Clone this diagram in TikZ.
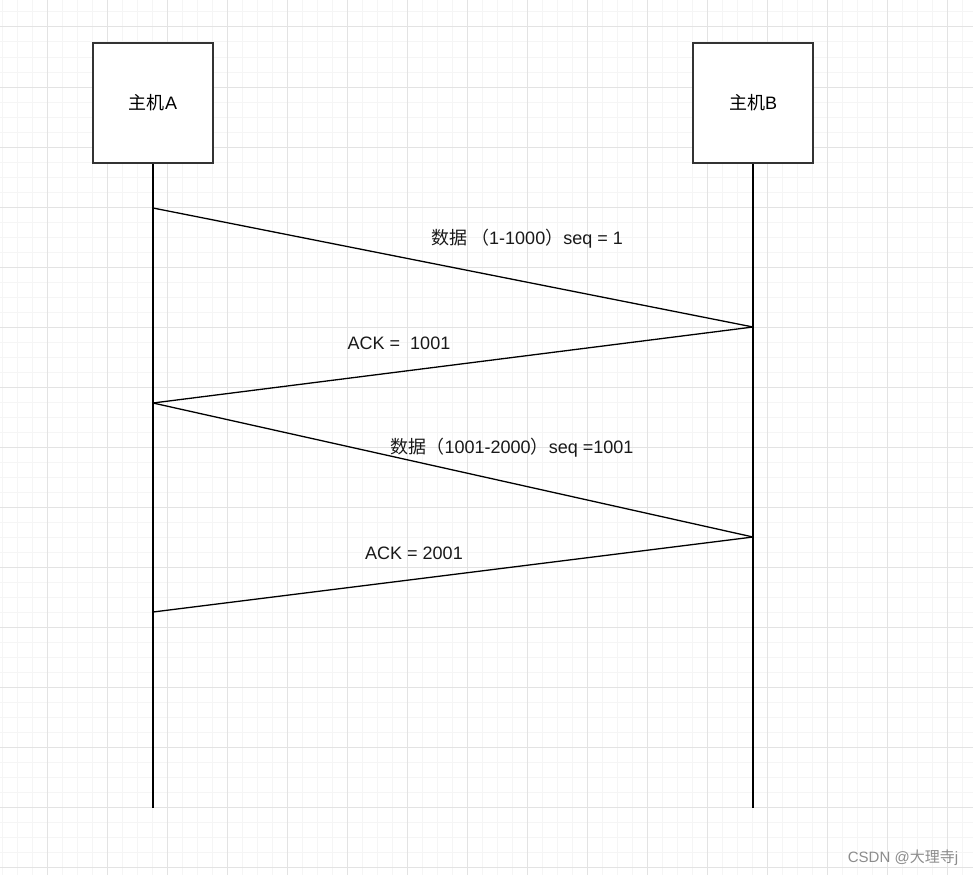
\documentclass[tikz,border=0pt]{standalone}
\usepackage{fontspec}
\setmainfont{Liberation Sans}
\newfontfamily\cjk{Noto Sans CJK SC}
\definecolor{gridminor}{HTML}{F5F5F5}
\definecolor{gridmajor}{HTML}{E3E3E3}
\definecolor{boxline}{HTML}{333333}
\begin{document}
\begin{tikzpicture}[x=1pt,y=-1pt,
  host/.style={draw=boxline,line width=1.6pt,fill=white,minimum width=120pt,minimum height=120pt,inner sep=0pt,font=\fontsize{18}{21}\selectfont},
  life/.style={draw=black,line width=1.6pt},
  msg/.style={draw=black,line width=1.3pt},
  lbl/.style={inner sep=0pt,font=\fontsize{18}{21}\selectfont,text=black!90},
  wm/.style={inner sep=0pt,font=\fontsize{15}{17}\selectfont,text=black!45}]
\useasboundingbox (0,0) rectangle (973,875);
\fill[white] (0,0) rectangle (973,875);
% grid
\foreach \x in {2,17,...,973} \draw[gridminor,line width=1pt] (\x,0) -- (\x,875);
\foreach \y in {12,27,...,875} \draw[gridminor,line width=1pt] (0,\y) -- (973,\y);
\foreach \x in {47,107,...,973} \draw[gridmajor,line width=1pt] (\x,0) -- (\x,875);
\foreach \y in {27,87,...,875} \draw[gridmajor,line width=1pt] (0,\y) -- (973,\y);
% hosts
\node[host] (A) at (153,103) {{\cjk 主机}A};
\node[host] (B) at (753,103) {{\cjk 主机}B};
\coordinate (Aend) at (153,808);
\coordinate (Bend) at (753,808);
\draw[life] (A.south) -- (Aend);
\draw[life] (B.south) -- (Bend);
% message points
\coordinate (a1) at (153,208);
\coordinate (b1) at (753,327);
\coordinate (a2) at (153,403);
\coordinate (b2) at (753,537);
\coordinate (a3) at (153,612);
\draw[msg] (a1) -- (b1);
\draw[msg] (b1) -- (a2);
\draw[msg] (a2) -- (b2);
\draw[msg] (b2) -- (a3);
% labels
\node[lbl] (l1) at (527,239) {{\cjk 数据\ （}1-1000{\cjk ）}seq = 1};
\node[lbl] (l2) at (399,343) {ACK =\ \ 1001};
\node[lbl] (l3) at (512,448) {{\cjk 数据（}1001-2000{\cjk ）}seq =1001};
\node[lbl] (l4) at (414,553) {ACK = 2001};
\node[wm] (w) at (903,858) {CSDN @{\cjk 大理寺}j};
\end{tikzpicture}
\end{document}
